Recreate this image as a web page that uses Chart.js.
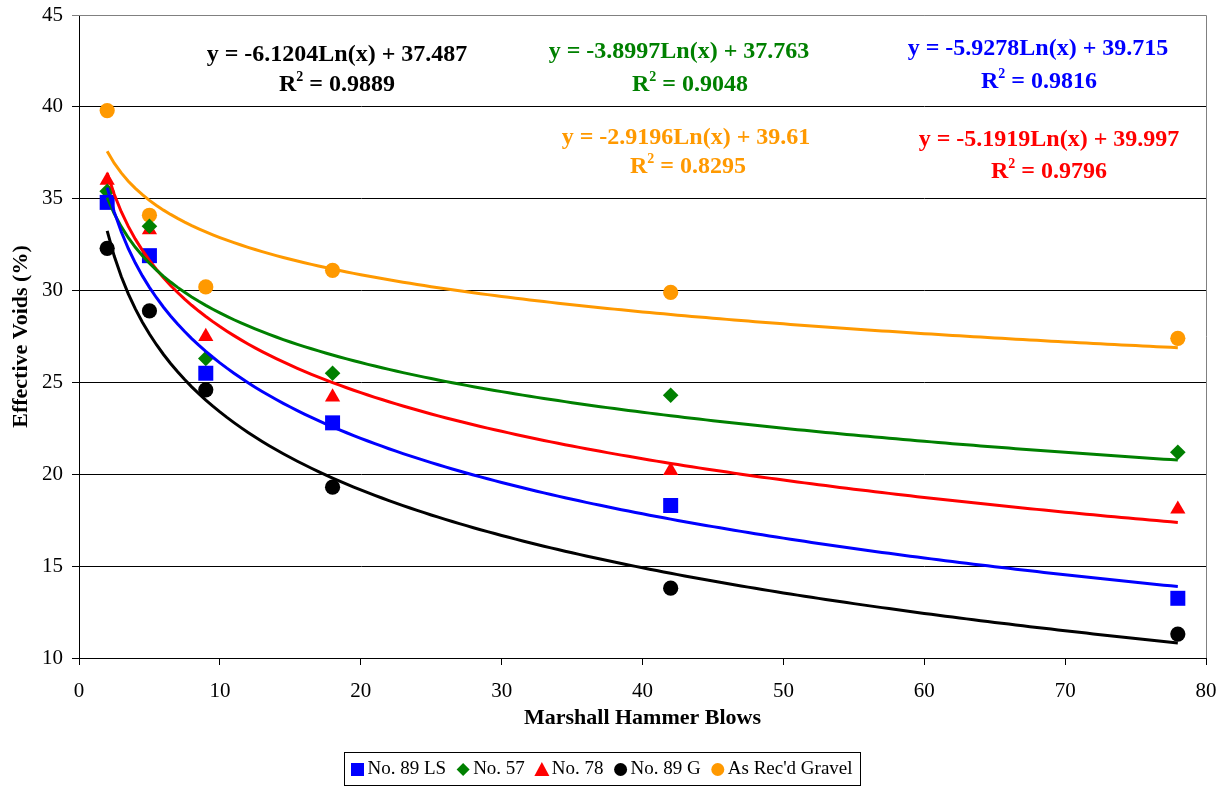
<!DOCTYPE html>
<html>
<head>
<meta charset="utf-8">
<title>Effective Voids vs Marshall Hammer Blows</title>
<script src="https://cdn.jsdelivr.net/npm/chart.js@4.4.1/dist/chart.umd.min.js"></script>
<style>
  html, body { margin: 0; padding: 0; background: #ffffff; }
  #wrap { width: 1228px; height: 787px; }
</style>
</head>
<body>
<div id="wrap"><canvas id="voidsChart" width="1228" height="787"></canvas></div>
<script>
// Datos
const blows = [2, 5, 9, 18, 42, 78];
const seriesNames = ["No. 89 LS", "No. 57", "No. 78", "No. 89 G", "As Rec'd Gravel"];
const no89LS = [34.8, 31.9, 25.5, 22.8, 18.3, 13.25];
const no57 = [35.4, 33.5, 26.3, 25.5, 24.3, 21.2];
const no78 = [36.0, 33.3, 27.5, 24.2, 20.2, 18.1];
const no89G = [32.3, 28.9, 24.6, 19.3, 13.8, 11.3];
const gravel = [39.8, 34.1, 30.2, 31.1, 29.9, 27.4];

// Coeficientes de las líneas de tendencia (tal como aparecen en el gráfico)
const fitSlope = [-5.9278, -3.8997, -5.1919, -6.1204, -2.9196];
const fitIntercept = [39.715, 37.763, 39.997, 37.487, 39.61];
const fitR2 = ["0.9816", "0.9048", "0.9796", "0.9889", "0.8295"];

const xTicks = [0, 10, 20, 30, 40, 50, 60, 70, 80];
const yTicks = [10, 15, 20, 25, 30, 35, 40, 45];

const colors = ["#0000ff", "#008000", "#ff0000", "#000000", "#ff9900"];
const markers = ["rect", "rectRot", "triangle", "circle", "circle"];
const markerSize = [10.6, 7.8, 8.8, 7.6, 7.6];
const allValues = [no89LS, no57, no78, no89G, gravel];

const serif = '"Liberation Serif", "Times New Roman", serif';

// Curva logarítmica y = a ln(x) + b entre el primer y el último punto
function trendPoints(a, b) {
  const pts = [];
  for (let x = blows[0]; x <= blows[blows.length - 1] + 1e-9; x += 0.5) {
    pts.push({ x: x, y: a * Math.log(x) + b });
  }
  return pts;
}

const datasets = [];
allValues.forEach((vals, i) => {
  datasets.push({
    label: seriesNames[i],
    data: blows.map((x, k) => ({ x: x, y: vals[k] })),
    pointStyle: markers[i],
    pointRadius: markerSize[i],
    pointHoverRadius: markerSize[i],
    backgroundColor: colors[i],
    borderColor: colors[i],
    borderWidth: 0,
    showLine: false,
    order: 2,
  });
});
allValues.forEach((vals, i) => {
  datasets.push({
    label: seriesNames[i] + " trend",
    data: trendPoints(fitSlope[i], fitIntercept[i]),
    showLine: true,
    pointRadius: 0,
    borderColor: colors[i],
    borderWidth: 3,
    fill: false,
    tension: 0,
    order: 1,
  });
});

// Posiciones de las ecuaciones (px) en el mismo orden que las series
const eqPos = [
  { x: 1038, y: 49, rx: 1039, ry: 82 },
  { x: 679, y: 52, rx: 690, ry: 85 },
  { x: 1049, y: 140, rx: 1049, ry: 172 },
  { x: 337, y: 55, rx: 337, ry: 85 },
  { x: 686, y: 138, rx: 688, ry: 167 },
];

const equationLabels = {
  id: "equationLabels",
  afterDatasetsDraw(chart) {
    const ctx = chart.ctx;
    ctx.save();
    ctx.textBaseline = "middle";
    const big = "bold 24px " + serif;
    const small = "bold 14px " + serif;
    fitSlope.forEach((a, i) => {
      const p = eqPos[i];
      ctx.fillStyle = colors[i];
      ctx.font = big;
      ctx.textAlign = "center";
      const eq = "y = " + a.toFixed(4) + "Ln(x) + " + fitIntercept[i];
      ctx.fillText(eq, p.x, p.y);

      // R² con superíndice
      const rest = " = " + fitR2[i];
      ctx.textAlign = "left";
      const wR = ctx.measureText("R").width;
      const wRest = ctx.measureText(rest).width;
      ctx.font = small;
      const w2 = ctx.measureText("2").width;
      const x0 = p.rx - (wR + w2 + wRest) / 2;
      ctx.font = big;
      ctx.fillText("R", x0, p.ry);
      ctx.font = small;
      ctx.fillText("2", x0 + wR, p.ry - 8);
      ctx.font = big;
      ctx.fillText(rest, x0 + wR + w2, p.ry);
    });
    ctx.restore();
  },
};

const plotBorder = {
  id: "plotBorder",
  afterDraw(chart) {
    const { ctx, chartArea } = chart;
    ctx.save();
    ctx.strokeStyle = "#808080";
    ctx.lineWidth = 1;
    ctx.beginPath();
    ctx.moveTo(chartArea.left, chartArea.top + 0.5);
    ctx.lineTo(chartArea.right + 0.5, chartArea.top + 0.5);
    ctx.lineTo(chartArea.right + 0.5, chartArea.bottom);
    ctx.stroke();
    ctx.restore();
  },
};

function drawMarker(ctx, style, x, y, s, color) {
  ctx.fillStyle = color;
  ctx.beginPath();
  if (style === "rect") {
    ctx.rect(x - s / 2, y - s / 2, s, s);
  } else if (style === "rectRot") {
    ctx.moveTo(x, y - s / 2);
    ctx.lineTo(x + s / 2, y);
    ctx.lineTo(x, y + s / 2);
    ctx.lineTo(x - s / 2, y);
    ctx.closePath();
  } else if (style === "triangle") {
    ctx.moveTo(x, y - s / 2 - 1);
    ctx.lineTo(x + s / 2 + 1, y + s / 2);
    ctx.lineTo(x - s / 2 - 1, y + s / 2);
    ctx.closePath();
  } else {
    ctx.arc(x, y, s / 2, 0, Math.PI * 2);
  }
  ctx.fill();
}

// Leyenda con recuadro, como en la hoja de cálculo
const boxedLegend = {
  id: "boxedLegend",
  afterDraw(chart) {
    const ctx = chart.ctx;
    ctx.save();
    ctx.font = "19px " + serif;
    ctx.textBaseline = "middle";
    ctx.textAlign = "left";
    const markW = 14, gapText = 3, gapItem = 10, padL = 6, padR = 8;
    let total = padL + padR;
    seriesNames.forEach((name, i) => {
      total += markW + gapText + ctx.measureText(name).width;
      if (i < seriesNames.length - 1) total += gapItem;
    });
    const cx = 602, top = 752, h = 33;
    let x = Math.round(cx - total / 2) + 0.5;
    ctx.strokeStyle = "#000000";
    ctx.lineWidth = 1;
    ctx.strokeRect(x, top + 0.5, Math.round(total), h);
    const midY = top + h / 2 + 1;
    x += padL;
    seriesNames.forEach((name, i) => {
      drawMarker(ctx, markers[i], x + markW / 2, midY, 13, colors[i]);
      x += markW + gapText;
      ctx.fillStyle = "#000000";
      ctx.fillText(name, x, midY);
      x += ctx.measureText(name).width + gapItem;
    });
    ctx.restore();
  },
};

const ctx = document.getElementById("voidsChart").getContext("2d");
const chart = new Chart(ctx, {
  type: "scatter",
  data: { datasets: datasets },
  options: {
    responsive: false,
    animation: false,
    layout: { padding: { left: 0, right: 22, top: 15, bottom: 49 } },
    plugins: {
      legend: { display: false },
      tooltip: { enabled: false },
    },
    scales: {
      x: {
        type: "linear",
        min: xTicks[0],
        max: xTicks[xTicks.length - 1],
        afterBuildTicks: (scale) => { scale.ticks = xTicks.map((v) => ({ value: v })); },
        afterFit: (scale) => {
          scale.height = 80;
          scale.paddingLeft = 0;
          scale.paddingRight = 0;
        },
        grid: { drawOnChartArea: false, drawTicks: true, tickLength: 7, color: "#000000" },
        border: { color: "#000000", width: 1 },
        ticks: { color: "#000000", padding: 14, font: { family: serif, size: 21 } },
        title: {
          display: true,
          text: "Marshall Hammer Blows",
          color: "#000000",
          font: { family: serif, size: 22, weight: "bold" },
          padding: { top: 0, bottom: 6 },
        },
      },
      y: {
        type: "linear",
        min: yTicks[0],
        max: yTicks[yTicks.length - 1],
        afterBuildTicks: (scale) => { scale.ticks = yTicks.map((v) => ({ value: v })); },
        afterFit: (scale) => {
          scale.width = 79;
          scale.paddingTop = 0;
          scale.paddingBottom = 0;
        },
        grid: {
          color: (c) => (c.tick && c.tick.value === 45 ? "#808080" : "#000000"),
          lineWidth: 1,
          tickLength: 7,
        },
        border: { color: "#000000", width: 1 },
        ticks: { color: "#000000", padding: 9, font: { family: serif, size: 21 } },
        title: {
          display: true,
          text: "Effective Voids (%)",
          color: "#000000",
          font: { family: serif, size: 22, weight: "bold" },
          padding: { top: 8, bottom: 0 },
        },
      },
    },
  },
  plugins: [equationLabels, plotBorder, boxedLegend],
});
</script>
</body>
</html>
